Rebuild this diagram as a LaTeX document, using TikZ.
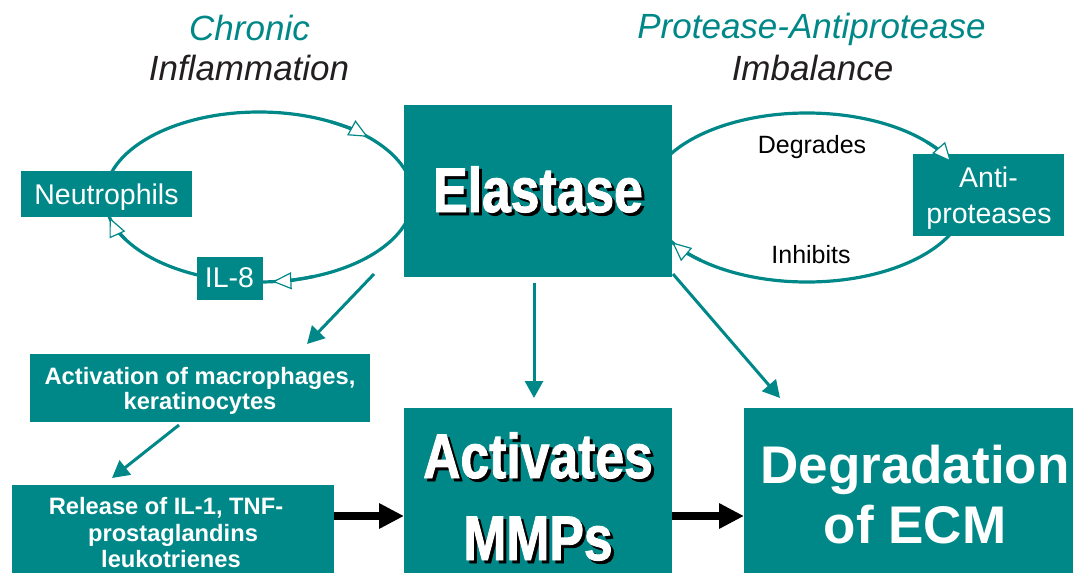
\documentclass[tikz,border=0pt]{standalone}
\usepackage{fontspec}
\setmainfont{Liberation Sans}
\newfontfamily\heavyfont{Liberation Sans}[FakeStretch=0.82, BoldFeatures={FakeBold=1.5}]
\usetikzlibrary{arrows.meta}
\definecolor{tealc}{RGB}{0,136,136}
\definecolor{inkc}{RGB}{35,31,32}
\newcommand\bigtxt{\heavyfont\bfseries\fontsize{63}{63}\selectfont}
\begin{document}
\begin{tikzpicture}[x=1pt,y=-1pt,
  box/.style={fill=tealc, draw=none, inner sep=0pt, anchor=north west},
  txt/.style={inner sep=0pt, anchor=base},
  ttl/.style={txt, font=\itshape\fontsize{35}{35}\selectfont},
  wtxt/.style={txt, text=white, font=\fontsize{28.5}{28.5}\selectfont},
  btxt/.style={txt, text=white, font=\bfseries\fontsize{23.7}{23.7}\selectfont},
  ktxt/.style={txt, text=black, font=\fontsize{25}{25}\selectfont},
  ell/.style={draw=tealc, line width=3.2pt},
  openarr/.style={ell, -{Triangle[length=19pt,width=17pt,line width=1.2pt,fill=white]}},
  tarr/.style={draw=tealc, line width=3pt, -{Triangle[length=17pt,width=18pt]}},
  barr/.style={draw=black, line width=8pt, -{Triangle[length=25pt,width=24pt]}}]
\useasboundingbox[fill=white] (0,0) rectangle (1073,573);

% titles
\node[ttl, text=tealc] (t1) at (249.5,40) {Chronic};
\node[ttl, text=inkc] (t2) at (249,80) {Inflammation};
\node[ttl, text=tealc] (t3) at (811.5,38) {Protease-Antiprotease};
\node[ttl, text=inkc] (t4) at (812.5,80) {Imbalance};

% cycles (drawn under the boxes)
\draw[ell] (259,197) ellipse [x radius=154, y radius=85];
\draw[ell] (807,197.5) ellipse [x radius=159, y radius=84.5];

% boxes
\node[box, minimum width=171pt, minimum height=46pt] (neut) at (21,171) {};
\node[box, minimum width=66pt, minimum height=43pt] (il8) at (197,257) {};
\node[box, minimum width=268pt, minimum height=172pt] (elast) at (404,105) {};
\node[box, minimum width=151pt, minimum height=82pt] (anti) at (913,154) {};
\node[box, minimum width=340pt, minimum height=68pt] (activ) at (30,354) {};
\node[box, minimum width=322pt, minimum height=88pt] (release) at (12,485) {};
\node[box, minimum width=268pt, minimum height=165pt] (mmp) at (404,408) {};
\node[box, minimum width=329pt, minimum height=165pt] (degr) at (744,408) {};

% open arrowheads on the cycles
\draw[openarr] (259,197) ++(298:154 and 85) arc[start angle=298, end angle=315, x radius=154, y radius=85];
\draw[openarr] (259,197) ++(69:154 and 85) arc[start angle=69, end angle=85, x radius=154, y radius=85];
\draw[openarr] (259,197) ++(150:154 and 85) arc[start angle=150, end angle=166, x radius=154, y radius=85];
\draw[openarr] (807,197.5) ++(319:159 and 84.5) arc[start angle=319, end angle=335, x radius=159, y radius=84.5];
\draw[openarr] (807,197.5) ++(132:159 and 84.5) arc[start angle=132, end angle=148, x radius=159, y radius=84.5];

% box texts
\node[wtxt] (neuttxt) at (106.5,204) {Neutrophils};
\node[wtxt] (il8txt) at (229.5,287) {IL-8};
\node[wtxt] (antitxt1) at (988.5,187) {Anti-};
\node[wtxt] (antitxt2) at (989,223) {proteases};
\node[ktxt] (degrades) at (812,153) {Degrades};
\node[ktxt] (inhibits) at (811,263) {Inhibits};
\node[btxt] (actxt1) at (200,384) {Activation of macrophages,};
\node[btxt] (actxt2) at (200,409) {keratinocytes};
\node[btxt] (reltxt1) at (166,514) {Release of IL-1, TNF-};
\node[btxt] (reltxt2) at (173,541) {prostaglandins};
\node[btxt] (reltxt3) at (171,567) {leukotrienes};
\node[txt, text=black] (elshadow) at (541,215) {\bigtxt Elastase};
\node[txt, text=white] (eltxt) at (538,212) {\bigtxt Elastase};
\node[txt, text=black] (mmpshadow1) at (541,481) {\bigtxt Activates};
\node[txt, text=white] (mmptxt1) at (538,478) {\bigtxt Activates};
\node[txt, text=black] (mmpshadow2) at (541,563) {\bigtxt MMPs};
\node[txt, text=white] (mmptxt2) at (538,560) {\bigtxt MMPs};
\node[txt, text=white, font=\bfseries\fontsize{53}{53}\selectfont] (dgtxt1) at (915,483) {Degradation};
\node[txt, text=white, font=\bfseries\fontsize{53}{53}\selectfont] (dgtxt2) at (915,543) {of ECM};

% connectors
\coordinate (a1s) at (374,274); \coordinate (a1e) at (307,344);
\coordinate (a2s) at (534,283); \coordinate (a2e) at (534,398);
\coordinate (a3s) at (673,274); \coordinate (a3e) at (780,398);
\coordinate (a4s) at (179,425); \coordinate (a4e) at (112,478);
\draw[tarr] (a1s) -- (a1e);
\draw[tarr] (a2s) -- (a2e);
\draw[tarr] (a3s) -- (a3e);
\draw[tarr] (a4s) -- (a4e);
\coordinate (row) at (0,516);
\draw[barr] (release.east |- row) -- (mmp.west |- row);
\draw[barr] (mmp.east |- row) -- (degr.west |- row);
\end{tikzpicture}
\end{document}
